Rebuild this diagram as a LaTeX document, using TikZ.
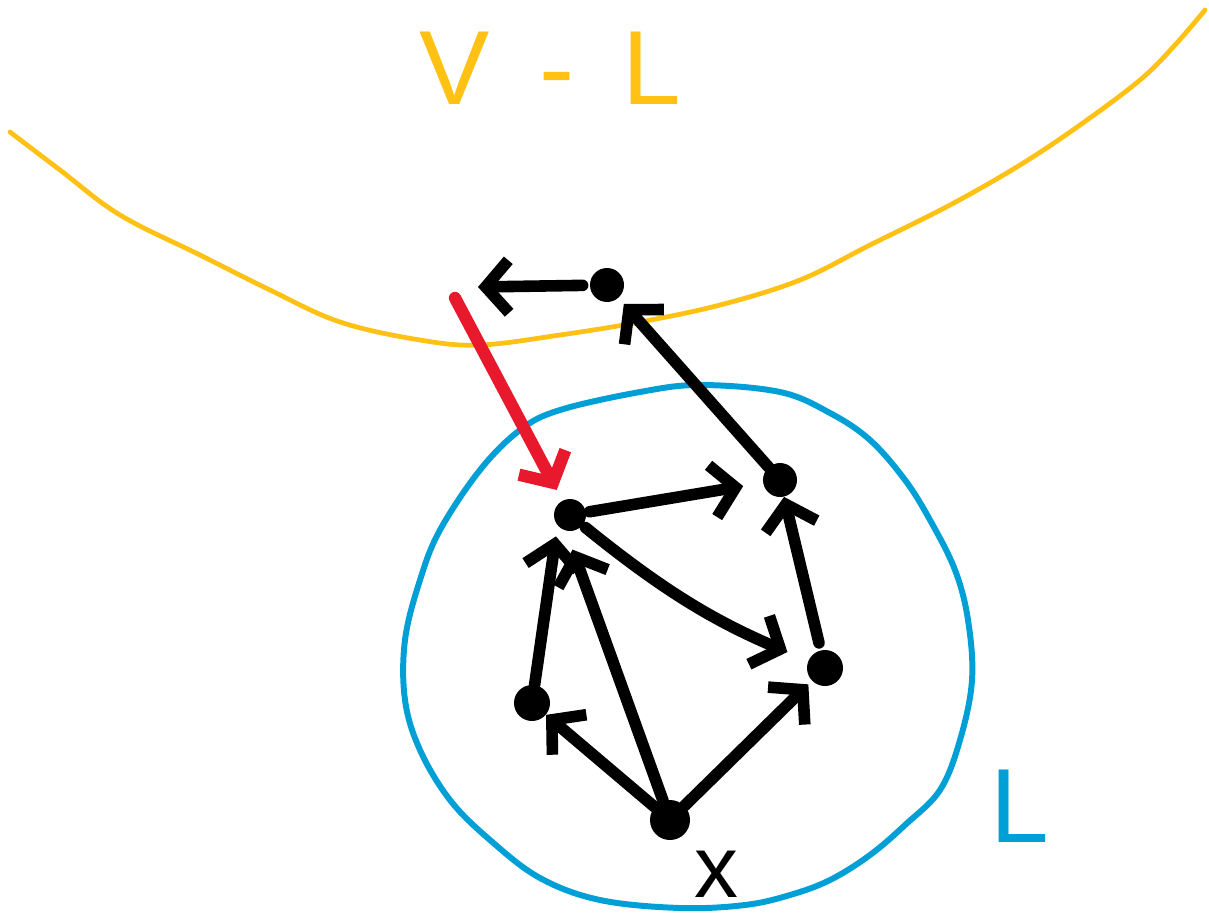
\documentclass[tikz,border=0pt]{standalone}
\usepackage{fontspec}
\setmainfont{Liberation Sans}
\usetikzlibrary{arrows.meta}
\definecolor{hy}{HTML}{FFC114}
\definecolor{hb}{HTML}{00A0D6}
\definecolor{hr}{HTML}{E8192C}
\begin{document}
\begin{tikzpicture}[x=0.02cm,y=-0.02cm,
  dot/.style={circle,fill=black,inner sep=0pt,minimum size=0.68cm},
  edge/.style={line width=6.6pt,line cap=round,line join=round,
    -{Straight Barb[length=0.46cm,width=1.05cm]}},
  redge/.style={edge,draw=hr,line width=7pt},
  hand/.style={font=\fontsize{60}{60}\selectfont,inner sep=0pt}]
\useasboundingbox (0,0) rectangle (1209,916);
% V - L boundary
\draw[hy,line width=2.7pt,line cap=round] plot[smooth,tension=0.6] coordinates
  {(10,132) (60,170) (120,215) (200,255) (270,290) (340,322) (420,340) (480,345)
   (560,335) (640,322) (720,305) (800,280) (870,245) (950,205) (1020,165)
   (1080,125) (1140,80) (1175,45) (1205,10)};
\node[hand,text=hy] (vl) at (550,68) {V\hspace{1.0cm}-\hspace{0.95cm}L};
% L region
\draw[hb,line width=3.4pt] plot[smooth cycle,tension=0.6] coordinates
  {(700,385) (640,392) (560,410) (520,430) (480,470) (440,530) (420,580)
   (405,640) (405,700) (420,750) (450,800) (490,840) (540,878) (600,900)
   (680,908) (745,905) (790,895) (830,880) (870,855) (905,825) (940,790)
   (960,740) (972,680) (968,620) (955,570) (930,520) (905,480) (870,440)
   (830,413) (780,392)};
\node[hand,text=hb] (lL) at (1020,806) {L};
% vertices
\node[dot] (A) at (607,285) {};
\node[dot] (B) at (780,480) {};
\node[dot,minimum size=0.64cm] (C) at (570,515) {};
\node[dot,minimum size=0.72cm] (D) at (825,668) {};
\node[dot,minimum size=0.72cm] (E) at (532,703) {};
\node[dot,minimum size=0.8cm] (F) at (670,820) {};
\node[font=\fontsize{50}{50}\selectfont,inner sep=0pt] (x) at (716,874) {x};
\coordinate (a1) at (478,287);
\coordinate (r0) at (455,298);
% connectors
\draw[edge,shorten <=4pt] (A) -- (a1);
\draw[edge,shorten >=0.16cm] (B) -- (A);
\draw[redge,shorten >=0.24cm] (r0) -- (C);
\draw[edge,shorten >=0.4cm,shorten <=2pt] (C) -- (B);
\draw[edge,shorten >=0.45cm,shorten <=2pt] (C) to[bend right=8] (D);
\draw[edge,shorten <=0.15cm] (D) -- (B);
\draw[edge,shorten >=0.22cm] (E) -- (C.-140);
\draw[edge,shorten >=0.4cm] (F) -- (C.-105);
\draw[edge] (F) -- (E);
\draw[edge,shorten >=0.1cm] (F) -- (D);
\end{tikzpicture}
\end{document}
